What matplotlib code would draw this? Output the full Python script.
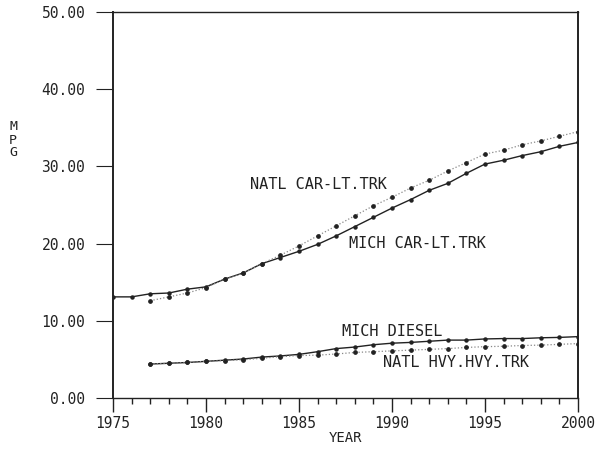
import numpy as np
import matplotlib.pyplot as plt
from matplotlib.ticker import MultipleLocator

# MPG projections
years = list(range(1975, 2001))
mich_car = [13.1, 13.1, 13.5, 13.6, 14.1, 14.4, 15.4, 16.2, 17.4, 18.2, 19.0, 19.9, 21.0,
            22.2, 23.4, 24.6, 25.7, 26.9, 27.8, 29.1, 30.3, 30.8, 31.4, 31.9, 32.6, 33.1]

years_77 = list(range(1977, 2001))
natl_car = [12.6, 13.1, 13.6, 14.3, 15.4, 16.2, 17.4, 18.5, 19.7, 21.0, 22.3, 23.6,
            24.9, 26.0, 27.2, 28.2, 29.4, 30.5, 31.6, 32.1, 32.8, 33.3, 33.9, 34.5]
mich_diesel = [4.4, 4.5, 4.6, 4.75, 4.9, 5.05, 5.3, 5.45, 5.65, 6.0, 6.4, 6.6,
               6.9, 7.1, 7.2, 7.35, 7.5, 7.5, 7.65, 7.7, 7.7, 7.8, 7.85, 7.95]
natl_hvy = [4.4, 4.5, 4.6, 4.75, 4.85, 4.95, 5.15, 5.35, 5.5, 5.55, 5.7, 5.9,
            6.0, 6.1, 6.2, 6.3, 6.4, 6.55, 6.65, 6.7, 6.8, 6.85, 6.95, 7.05]

labels = ['NATL CAR-LT.TRK', 'MICH CAR-LT.TRK', 'MICH DIESEL', 'NATL HVY.HVY.TRK']

plt.rcParams['font.family'] = 'DejaVu Sans Mono'
ink = '#222222'

fig = plt.figure(figsize=(5.97, 4.57), dpi=100)
ax = fig.add_axes([0.1893, 0.1291, 0.7787, 0.8446])

ax.plot(years, mich_car, color=ink, lw=1.0, marker='o', ms=2.2)
ax.plot(years_77, natl_car, color='#888888', lw=0.9, ls=':', marker='o', ms=2.4,
        mfc=ink, mec=ink)
ax.plot(years_77, mich_diesel, color=ink, lw=1.0, marker='o', ms=2.2)
ax.plot(years_77, natl_hvy, color='#888888', lw=0.9, ls=':', marker='o', ms=2.4,
        mfc=ink, mec=ink)

ax.text(1982.37, 27.6, labels[0], fontsize=11, color=ink, va='center')
ax.text(1987.69, 20.0, labels[1], fontsize=11, color=ink, va='center')
ax.text(1987.31, 8.55, labels[2], fontsize=11, color=ink, va='center')
ax.text(1989.52, 4.65, labels[3], fontsize=11, color=ink, va='center')

ax.set_xlim(1975, 2000)
ax.set_ylim(0, 50)
ax.xaxis.set_major_locator(MultipleLocator(5))
ax.xaxis.set_minor_locator(MultipleLocator(1))
ax.yaxis.set_major_locator(MultipleLocator(10))
ax.yaxis.set_major_formatter(plt.FormatStrFormatter('%.2f'))

ax.tick_params(axis='x', which='major', direction='out', length=10, width=1.0,
               pad=3, labelsize=10.5, colors=ink)
ax.tick_params(axis='x', which='minor', direction='out', length=4, width=1.0, colors=ink)
ax.tick_params(axis='y', direction='out', length=12, width=0.8, pad=8,
               labelsize=10.5, colors=ink)

for s in ax.spines.values():
    s.set_color(ink)
    s.set_linewidth(1.0)
ax.spines['left'].set_linewidth(1.4)
ax.spines['right'].set_linewidth(1.4)

ax.set_xlabel('YEAR', fontsize=10, color=ink, labelpad=0)
fig.text(13 / 597, 1 - 140 / 457, 'M\nP\nG', fontsize=9.5, color=ink,
         ha='center', va='center', linespacing=1.0)

plt.savefig('out.png', dpi=100)
